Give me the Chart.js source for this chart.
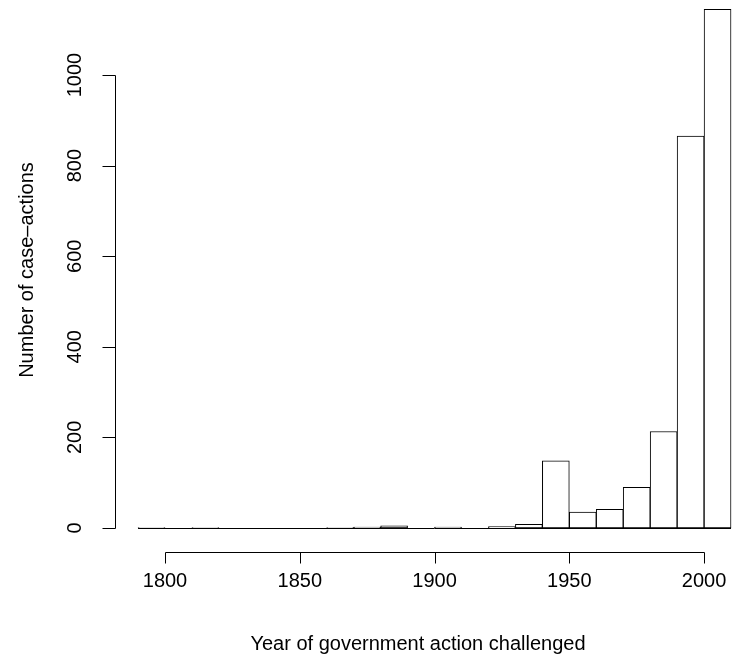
<!DOCTYPE html>
<html>
<head>
<meta charset="utf-8">
<script src="https://cdn.jsdelivr.net/npm/chart.js@4"></script>
<style>
  html, body { margin: 0; padding: 0; background: #ffffff; }
  canvas { display: block; }
</style>
</head>
<body>
<canvas id="c" width="734" height="665"></canvas>
<script>
// ---- data (10-year bins) ----
const binStarts = [1790,1800,1810,1820,1830,1840,1850,1860,1870,1880,1890,1900,1910,1920,1930,1940,1950,1960,1970,1980,1990,2000];
const counts    = [1,0,1,0,0,0,0,1,2,5,0,2,0,3,8,148,35,41,90,213,865,1145];
const binWidth = 10;
const xTicks = [1800,1850,1900,1950,2000];
const xTickLabels = ['1800','1850','1900','1950','2000'];
const yTicks = [0,200,400,600,800,1000];
const yTickLabels = ['0','200','400','600','800','1000'];
const xTitle = 'Year of government action challenged';
const yTitle = 'Number of case\u2013actions';

const FONT = '20px "Liberation Sans", Arial, Helvetica, sans-serif';

const rAxes = {
  id: 'rAxes',
  afterDatasetsDraw(chart) {
    const ctx = chart.ctx;
    const xs = chart.scales.x, ys = chart.scales.y;
    const area = chart.chartArea;
    ctx.save();
    ctx.strokeStyle = '#000';
    ctx.lineWidth = 1;
    // baseline of histogram (zero-height bins drawn as lines, like R)
    const y0 = Math.round(ys.getPixelForValue(0)) + 0.5;
    ctx.beginPath();
    ctx.moveTo(xs.getPixelForValue(binStarts[0]), y0);
    ctx.lineTo(xs.getPixelForValue(binStarts[binStarts.length - 1] + binWidth), y0);
    ctx.stroke();

    // y axis
    const ax = Math.round(area.left) + 0.5;
    ctx.beginPath();
    ctx.moveTo(ax, Math.round(ys.getPixelForValue(yTicks[0])) + 0.5);
    ctx.lineTo(ax, Math.round(ys.getPixelForValue(yTicks[yTicks.length - 1])) + 0.5);
    yTicks.forEach(v => {
      const py = Math.round(ys.getPixelForValue(v)) + 0.5;
      ctx.moveTo(ax, py);
      ctx.lineTo(ax - 13, py);
    });
    ctx.stroke();

    ctx.fillStyle = '#000';
    ctx.font = FONT;
    ctx.textAlign = 'center';
    ctx.textBaseline = 'middle';
    yTicks.forEach((v, i) => {
      const py = ys.getPixelForValue(v);
      ctx.save();
      ctx.translate(75, py);
      ctx.rotate(-Math.PI / 2);
      ctx.fillText(yTickLabels[i], 0, 0);
      ctx.restore();
    });

    // x axis
    const ay = Math.round(area.bottom) + 0.5;
    ctx.beginPath();
    ctx.moveTo(Math.round(xs.getPixelForValue(xTicks[0])) + 0.5, ay);
    ctx.lineTo(Math.round(xs.getPixelForValue(xTicks[xTicks.length - 1])) + 0.5, ay);
    xTicks.forEach(v => {
      const px = Math.round(xs.getPixelForValue(v)) + 0.5;
      ctx.moveTo(px, ay);
      ctx.lineTo(px, ay + 11);
    });
    ctx.stroke();
    xTicks.forEach((v, i) => {
      ctx.fillText(xTickLabels[i], xs.getPixelForValue(v), 581);
    });

    // titles
    ctx.fillText(xTitle, 418, 644);
    ctx.save();
    ctx.translate(27, 270);
    ctx.rotate(-Math.PI / 2);
    ctx.fillText(yTitle, 0, 0);
    ctx.restore();
    ctx.restore();
  }
};

new Chart(document.getElementById('c'), {
  type: 'bar',
  data: {
    datasets: [{
      data: binStarts.map((s, i) => ({ x: s + binWidth / 2, y: counts[i] })),
      backgroundColor: '#ffffff',
      borderColor: '#000000',
      borderWidth: 1,
      borderSkipped: false,
      barPercentage: 1,
      categoryPercentage: 1
    }]
  },
  options: {
    responsive: false,
    animation: false,
    devicePixelRatio: 1,
    layout: { padding: { left: 115, right: 0, top: 0, bottom: 113 } },
    plugins: { legend: { display: false }, tooltip: { enabled: false } },
    scales: {
      x: { type: 'linear', display: false, min: 1781.45, max: 2011.1, offset: false },
      y: { type: 'linear', display: false, min: -53, max: 1165.6 }
    }
  },
  plugins: [rAxes]
});
</script>
</body>
</html>
